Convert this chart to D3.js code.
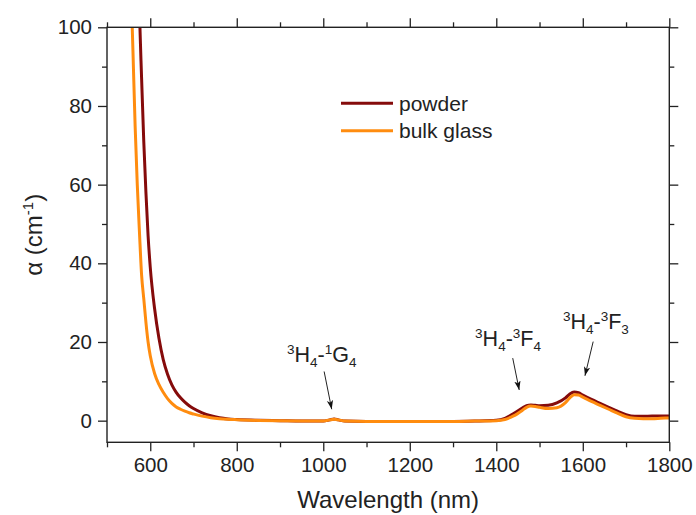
<!DOCTYPE html>
<html>
<head>
<meta charset="utf-8">
<script src="https://cdn.jsdelivr.net/npm/d3@7/dist/d3.min.js"></script>
<style>
  html, body { margin: 0; padding: 0; background: #fff; }
  svg { display: block; font-family: "Liberation Sans", Arial, sans-serif; }
</style>
</head>
<body>
<svg id="chart" width="696" height="515"></svg>
<script>
// Absorption coefficient spectra (cm^-1) versus wavelength (nm)
const wavelength = [550, 555, 560, 565, 570, 575, 580, 585, 590, 595, 600, 610, 620, 630, 640, 650, 660, 670, 680, 690, 700,
  720, 740, 760, 780, 800, 850, 900, 950, 1000, 1015, 1025, 1035, 1050, 1100, 1150, 1200, 1250, 1300, 1350, 1400,
  1420, 1440, 1460, 1470, 1480, 1490, 1500, 1520, 1540, 1560, 1570, 1580, 1590, 1600, 1620, 1640, 1660, 1680, 1700,
  1720, 1740, 1760, 1780, 1800];

const powder = [220, 190, 165, 145, 128, 104, 87, 71, 58, 47, 39, 28.5, 21, 15.5, 11.8, 9.1, 7.2, 5.8, 4.7, 3.8, 3.1,
  2.0, 1.25, 0.75, 0.45, 0.3, 0.1, 0.0, -0.1, -0.1, 0.2, 0.4, 0.2, -0.1, -0.2, -0.2, -0.2, -0.2, -0.2, -0.1, 0.1,
  0.6, 1.8, 3.2, 3.8, 4.0, 3.9, 3.8, 3.9, 4.5, 5.8, 6.8, 7.3, 7.1, 6.5, 5.4, 4.4, 3.4, 2.4, 1.5,
  1.1, 1.1, 1.2, 1.2, 1.2];

const bulkGlass = [130, 112, 94, 75, 60, 48, 37, 31, 25, 20, 16.5, 12, 9.2, 7.2, 5.6, 4.4, 3.5, 2.9, 2.4, 2.0, 1.7,
  1.15, 0.75, 0.5, 0.35, 0.25, 0.05, -0.05, -0.1, -0.1, 0.2, 0.35, 0.2, -0.1, -0.2, -0.2, -0.2, -0.2, -0.2, -0.1, 0.0,
  0.3, 1.2, 2.6, 3.4, 3.7, 3.6, 3.4, 3.1, 3.3, 4.6, 5.8, 6.6, 6.5, 6.0, 4.9, 3.9, 2.9, 1.9, 1.0,
  0.6, 0.5, 0.5, 0.6, 0.7];

const seriesNames = ["powder", "bulk glass"];
const seriesColors = ["#850b0b", "#ff8c0f"];

const xMajorTicks = [600, 800, 1000, 1200, 1400, 1600, 1800];
const xMinorTicks = [500, 700, 900, 1100, 1300, 1500, 1700];
const yMajorTicks = [0, 20, 40, 60, 80, 100];
const yMinorTicks = [10, 30, 50, 70, 90];

// Transition labels (sup, letter, sub, dash, sup, letter, sub), text anchor and arrow in data units
const transitions = [
  { parts: ["3", "H", "4", "-", "1", "G", "4"], lx: 916, ly: 15.0, from: [1002, 12.5], to: [1019.5, 2.9] },
  { parts: ["3", "H", "4", "-", "3", "F", "4"], lx: 1351, ly: 19.0, from: [1438, 15.9], to: [1453, 7.8] },
  { parts: ["3", "H", "4", "-", "3", "F", "3"], lx: 1554, ly: 23.3, from: [1624, 20.1], to: [1605, 11.4] }
];

const svg = d3.select("#chart");
const plot = { left: 107, right: 669.3, top: 27.3, bottom: 442.3 };

const x = d3.scaleLinear().domain([500, 1800]).range([plot.left, plot.right]);
const y = d3.scaleLinear().domain([-5.5, 100]).range([plot.bottom, plot.top]);

const defs = svg.append("defs");
defs.append("clipPath").attr("id", "plotClip")
  .append("rect")
  .attr("x", plot.left).attr("y", plot.top)
  .attr("width", plot.right - plot.left).attr("height", plot.bottom - plot.top);
defs.append("marker").attr("id", "arrowHead")
  .attr("viewBox", "0 0 10 10").attr("refX", 10).attr("refY", 5)
  .attr("markerWidth", 9).attr("markerHeight", 9)
  .attr("markerUnits", "userSpaceOnUse")
  .attr("orient", "auto")
  .append("path").attr("d", "M0,1.5 L10,5 L0,8.5 L2.5,5 Z").attr("fill", "#111");

// Curves
const line = d3.line().curve(d3.curveMonotoneX);
const seriesValues = [powder, bulkGlass];
const curves = svg.append("g").attr("clip-path", "url(#plotClip)");
seriesValues.forEach((vals, i) => {
  curves.append("path")
    .attr("d", line(wavelength.map((w, j) => [x(w), y(vals[j])])))
    .attr("fill", "none")
    .attr("stroke", seriesColors[i])
    .attr("stroke-width", 3)
    .attr("stroke-linejoin", "round");
});

// Axes (ticks pointing outward on all four sides)
const tickFont = "20.5px";
function styleAxis(g) {
  g.select(".domain").remove();
  g.selectAll(".tick line").attr("stroke", "#222").attr("stroke-width", 1.3);
  g.selectAll(".tick text").attr("fill", "#222").style("font-size", tickFont);
}

svg.append("g").attr("transform", `translate(0,${plot.bottom})`)
  .call(d3.axisBottom(x).tickValues(xMajorTicks).tickSize(9).tickPadding(6).tickFormat(d3.format("d")))
  .call(styleAxis);
svg.append("g").attr("transform", `translate(0,${plot.bottom})`)
  .call(d3.axisBottom(x).tickValues(xMinorTicks).tickSize(5).tickFormat(""))
  .call(styleAxis);
svg.append("g").attr("transform", `translate(0,${plot.top})`)
  .call(d3.axisTop(x).tickValues(xMajorTicks).tickSize(9).tickFormat(""))
  .call(styleAxis);
svg.append("g").attr("transform", `translate(0,${plot.top})`)
  .call(d3.axisTop(x).tickValues(xMinorTicks).tickSize(5).tickFormat(""))
  .call(styleAxis);

svg.append("g").attr("transform", `translate(${plot.left},0)`)
  .call(d3.axisLeft(y).tickValues(yMajorTicks).tickSize(9).tickPadding(6).tickFormat(d3.format("d")))
  .call(styleAxis);
svg.append("g").attr("transform", `translate(${plot.left},0)`)
  .call(d3.axisLeft(y).tickValues(yMinorTicks).tickSize(5).tickFormat(""))
  .call(styleAxis);
svg.append("g").attr("transform", `translate(${plot.right},0)`)
  .call(d3.axisRight(y).tickValues(yMajorTicks).tickSize(9).tickFormat(""))
  .call(styleAxis);
svg.append("g").attr("transform", `translate(${plot.right},0)`)
  .call(d3.axisRight(y).tickValues(yMinorTicks).tickSize(5).tickFormat(""))
  .call(styleAxis);

// Frame
svg.append("rect")
  .attr("x", plot.left).attr("y", plot.top)
  .attr("width", plot.right - plot.left).attr("height", plot.bottom - plot.top)
  .attr("fill", "none").attr("stroke", "#222").attr("stroke-width", 1.4);

// Axis titles
svg.append("text")
  .attr("x", (plot.left + plot.right) / 2).attr("y", 508)
  .attr("text-anchor", "middle").attr("fill", "#222")
  .style("font-size", "24px")
  .text("Wavelength (nm)");

const yTitle = svg.append("text")
  .attr("transform", `translate(42,${(plot.top + plot.bottom) / 2}) rotate(-90)`)
  .attr("text-anchor", "middle").attr("fill", "#222")
  .style("font-size", "24px");
yTitle.append("tspan").text("α (cm");
yTitle.append("tspan").attr("dy", -9).style("font-size", "15px").text("-1");
yTitle.append("tspan").attr("dy", 9).text(")");

// Legend
const legend = svg.append("g");
seriesNames.forEach((name, i) => {
  const ly = 103.3 + i * 27.4;
  legend.append("line")
    .attr("x1", 341).attr("x2", 393).attr("y1", ly).attr("y2", ly)
    .attr("stroke", seriesColors[i]).attr("stroke-width", 3);
  legend.append("text")
    .attr("x", 399).attr("y", ly + 7.5)
    .attr("fill", "#222").style("font-size", "21px")
    .text(name);
});

// Transition annotations
const annot = svg.append("g");
transitions.forEach(t => {
  const txt = annot.append("text")
    .attr("x", x(t.lx)).attr("y", y(t.ly))
    .attr("fill", "#222").style("font-size", "21.5px");
  const [s1, l1, b1, dash, s2, l2, b2] = t.parts;
  txt.append("tspan").attr("dy", -8).style("font-size", "13.5px").text(s1);
  txt.append("tspan").attr("dy", 8).text(l1);
  txt.append("tspan").attr("dy", 5).style("font-size", "13.5px").text(b1);
  txt.append("tspan").attr("dy", -5).text(dash);
  txt.append("tspan").attr("dy", -8).style("font-size", "13.5px").text(s2);
  txt.append("tspan").attr("dy", 8).text(l2);
  txt.append("tspan").attr("dy", 5).style("font-size", "13.5px").text(b2);
  annot.append("line")
    .attr("x1", x(t.from[0])).attr("y1", y(t.from[1]))
    .attr("x2", x(t.to[0])).attr("y2", y(t.to[1]))
    .attr("stroke", "#222").attr("stroke-width", 1)
    .attr("marker-end", "url(#arrowHead)");
});
</script>
</body>
</html>
